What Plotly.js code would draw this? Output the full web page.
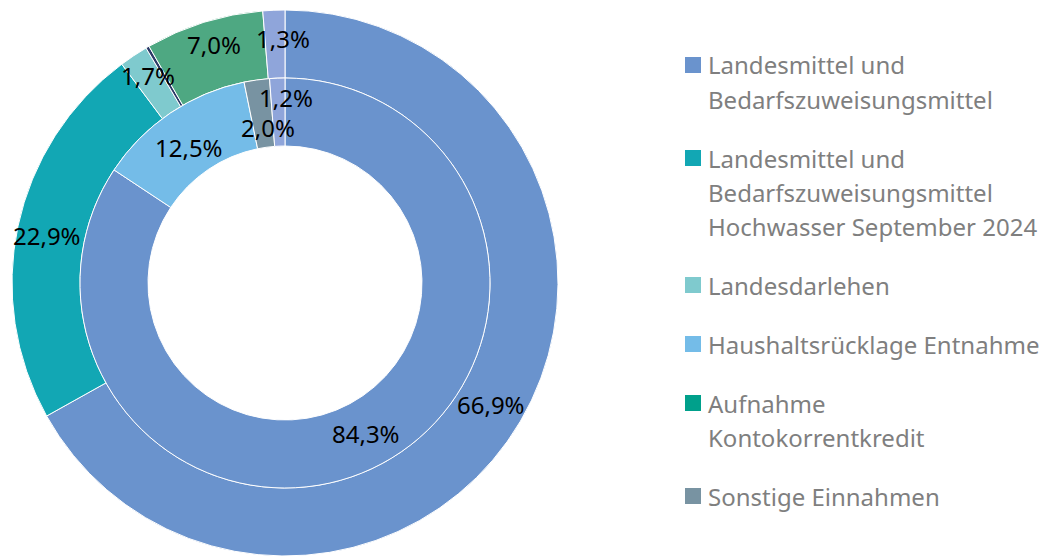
<!DOCTYPE html>
<html>
<head>
<meta charset="utf-8">
<script src="https://cdn.plot.ly/plotly-3.0.1.min.js"></script>
<style>html,body{margin:0;padding:0;background:#fff;}#chart{width:1043px;height:556px;}</style>
</head>
<body>
<div id="chart"></div>
<script>
// ---- data ----
const outerLabels = [
  'Landesmittel und Bedarfszuweisungsmittel',
  'Landesmittel und Bedarfszuweisungsmittel Hochwasser September 2024',
  'Landesdarlehen',
  'Sonstiges (gering)',
  'Aufnahme Kontokorrentkredit',
  'Weitere Mittel'
];
const outerValues = [66.9, 22.9, 1.7, 0.2, 7.0, 1.3];
const outerShowLabel = [true, true, true, false, true, true];

const innerLabels = [
  'Landesmittel und Bedarfszuweisungsmittel',
  'Haushaltsrücklage Entnahme',
  'Sonstige Einnahmen',
  'Weitere Mittel'
];
const innerValues = [84.3, 12.5, 2.0, 1.2];
const innerShowLabel = [true, true, true, true];

const legendItems = [
  ['Landesmittel und', 'Bedarfszuweisungsmittel'],
  ['Landesmittel und', 'Bedarfszuweisungsmittel', 'Hochwasser September 2024'],
  ['Landesdarlehen'],
  ['Haushaltsrücklage Entnahme'],
  ['Aufnahme', 'Kontokorrentkredit'],
  ['Sonstige Einnahmen']
];

// ---- styles ----
const outerColors = ['#6A93CD', '#12A7B4', '#7FCACE', '#2B3A67', '#4EA882', '#8FA5DA'];
const innerColors = ['#6A93CD', '#74BCE8', '#7893A2', '#8FA5DA'];
const legendColors = ['#6A93CD', '#12A7B4', '#7FCACE', '#74BCE8', '#00A08B', '#7893A2'];

const W = 1043, H = 556;
const cx = 285, cy = 283;
const rOut = 273, rMid = 205, rIn = 137;
const FONT = 'Noto Sans, Open Sans, sans-serif';

function fmt(v) { return v.toFixed(1).replace('.', ',') + '%'; }

function labelAnnotations(values, show, r, offsets) {
  const total = values.reduce((a, b) => a + b, 0);
  let cum = 0;
  const out = [];
  values.forEach((v, i) => {
    const mid = (cum + v / 2) / total * 2 * Math.PI;
    cum += v;
    if (!show[i]) return;
    const off = offsets[i] || [0, 0];
    const px = cx + r * Math.sin(mid) + off[0];
    const py = cy - r * Math.cos(mid) + off[1];
    out.push({
      x: px / W, y: 1 - py / H, xref: 'paper', yref: 'paper',
      text: fmt(v), showarrow: false, xanchor: 'center', yanchor: 'middle',
      font: {family: FONT, size: 24, color: '#000000'}
    });
  });
  return out;
}

const outerOffsets = {1: [-4, 2], 2: [-5, -9], 4: [0, -10], 5: [8, -6]};
const innerOffsets = {1: [0, 6], 2: [7, 14], 3: [7, -15]};

const annotations = []
  .concat(labelAnnotations(outerValues, outerShowLabel, (rOut + rMid) / 2, outerOffsets))
  .concat(labelAnnotations(innerValues, innerShowLabel, (rMid + rIn) / 2, innerOffsets));

// legend
const shapes = [];
const legX = 685, legTextX = 706, sw = 16;
let ly = 65;
const lineStep = 34, itemGap = 59;
legendItems.forEach((lines, k) => {
  shapes.push({
    type: 'rect', xref: 'paper', yref: 'paper',
    x0: legX / W, x1: (legX + sw) / W,
    y0: 1 - (ly + sw / 2) / H, y1: 1 - (ly - sw / 2) / H,
    fillcolor: legendColors[k], line: {width: 0}
  });
  lines.forEach((t, j) => {
    annotations.push({
      x: legTextX / W, y: 1 - (ly + j * lineStep) / H, xref: 'paper', yref: 'paper',
      text: t, showarrow: false, xanchor: 'left', yanchor: 'middle',
      font: {family: FONT, size: 24, color: '#7F7F7F'}
    });
  });
  ly += (lines.length - 1) * lineStep + itemGap;
});

const traces = [
  {
    type: 'pie', labels: outerLabels, values: outerValues,
    hole: rMid / rOut, sort: false, direction: 'clockwise', rotation: 0,
    textinfo: 'none', hoverinfo: 'none', showlegend: false,
    marker: {colors: outerColors, line: {color: '#FFFFFF', width: 1}},
    domain: {x: [(cx - rOut) / W, (cx + rOut) / W], y: [1 - (cy + rOut) / H, 1 - (cy - rOut) / H]}
  },
  {
    type: 'pie', labels: innerLabels, values: innerValues,
    hole: rIn / rMid, sort: false, direction: 'clockwise', rotation: 0,
    textinfo: 'none', hoverinfo: 'none', showlegend: false,
    marker: {colors: innerColors, line: {color: '#FFFFFF', width: 1}},
    domain: {x: [(cx - rMid) / W, (cx + rMid) / W], y: [1 - (cy + rMid) / H, 1 - (cy - rMid) / H]}
  }
];

const layout = {
  width: W, height: H,
  margin: {l: 0, r: 0, t: 0, b: 0},
  paper_bgcolor: '#FFFFFF',
  showlegend: false,
  annotations: annotations,
  shapes: shapes
};

Plotly.newPlot('chart', traces, layout, {displayModeBar: false, staticPlot: true});
</script>
</body>
</html>
